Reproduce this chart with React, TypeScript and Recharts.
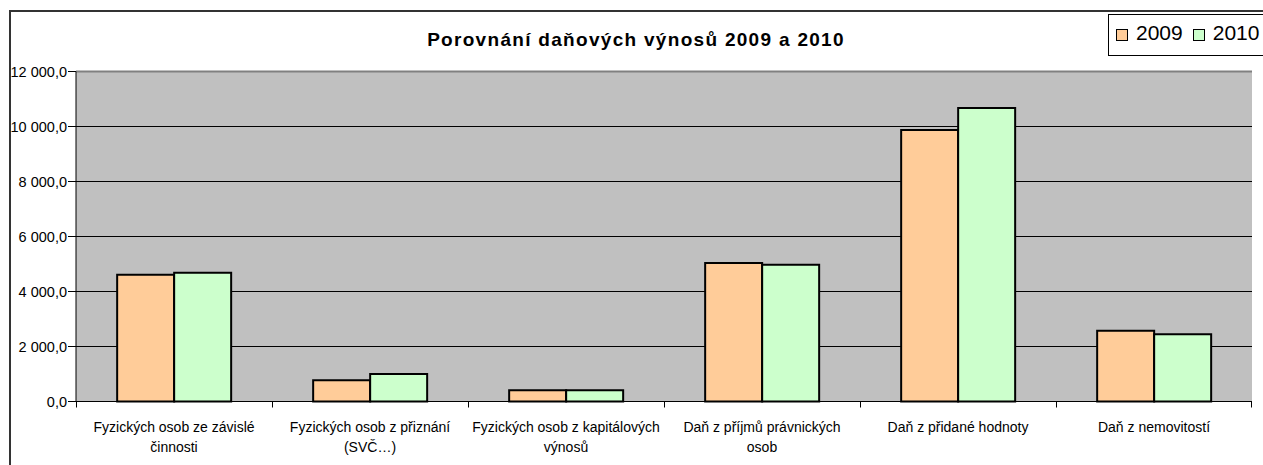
import React from 'react';
import { BarChart, Bar, XAxis, YAxis, CartesianGrid, Legend, ReferenceLine } from 'recharts';

const categories = [
  'Fyzických osob ze závislé činnosti',
  'Fyzických osob z přiznání (SVČ…)',
  'Fyzických osob z kapitálových výnosů',
  'Daň z příjmů právnických osob',
  'Daň z přidané hodnoty',
  'Daň z nemovitostí',
];
const categoryLines = [
  ['Fyzických osob ze závislé', 'činnosti'],
  ['Fyzických osob z přiznání', '(SVČ…)'],
  ['Fyzických osob z kapitálových', 'výnosů'],
  ['Daň z příjmů právnických', 'osob'],
  ['Daň z přidané hodnoty'],
  ['Daň z nemovitostí'],
];
const values2009 = [4605, 770, 405, 5035, 9875, 2575];
const values2010 = [4680, 1000, 405, 4970, 10675, 2445];
const seriesNames = ['2009', '2010'];
const yTicks = [0, 2000, 4000, 6000, 8000, 10000, 12000];
const title = 'Porovnání daňových výnosů 2009 a 2010';

const data = categories.map((c, i) => ({
  name: c,
  v2009: values2009[i],
  v2010: values2010[i],
}));

const FONT = '"Liberation Sans", Arial, sans-serif';

const fmt = (n: number) => {
  if (n === 0) return '0,0';
  const th = Math.floor(n / 1000);
  const rest = String(n % 1000).padStart(3, '0');
  return th > 0 ? `${th} ${rest},0` : `${n},0`;
};

const CategoryTick = (props: any) => {
  const { x, y, payload, width, visibleTicksCount, index } = props;
  const idx = categories.indexOf(payload.value);
  const lines = idx >= 0 ? categoryLines[idx] : [String(payload.value)];
  const band = width && visibleTicksCount ? Number(width) / Number(visibleTicksCount) : 0;
  const ty = Math.round(y) + 0.5;
  return (
    <g>
      {band > 0 && (
        <line
          x1={Math.round(x - band / 2) + 0.5}
          x2={Math.round(x - band / 2) + 0.5}
          y1={ty - 0.5}
          y2={ty + 5}
          stroke="#000"
          strokeWidth={1}
        />
      )}
      {band > 0 && index === visibleTicksCount - 1 && (
        <line
          x1={Math.round(x + band / 2) - 0.5}
          x2={Math.round(x + band / 2) - 0.5}
          y1={ty - 0.5}
          y2={ty + 5}
          stroke="#000"
          strokeWidth={1}
        />
      )}
      <text x={x} y={y} textAnchor="middle" fontSize={14} fill="#000" fontFamily={FONT}>
        {lines.map((l, i) => (
          <tspan key={i} x={x} dy={i === 0 ? 30 : 20}>
            {l}
          </tspan>
        ))}
      </text>
    </g>
  );
};

const renderLegend = (props: any) => {
  const { payload } = props;
  return (
    <div
      style={{
        boxSizing: 'border-box',
        width: 170,
        height: 42,
        border: '1px solid #000',
        background: '#fff',
        display: 'flex',
        alignItems: 'center',
        paddingLeft: 7,
        fontFamily: FONT,
      }}
    >
      {(payload || []).map((entry: any, i: number) => (
        <div key={i} style={{ display: 'flex', alignItems: 'center', marginRight: 10 }}>
          <div
            style={{
              width: 10,
              height: 10,
              border: '1px solid #000',
              background: entry.color,
              marginRight: 8,
            }}
          />
          <span style={{ fontSize: 21, lineHeight: '21px', color: '#000', position: 'relative', top: -2.5 }}>
            {entry.value}
          </span>
        </div>
      ))}
    </div>
  );
};

export default function App() {
  return (
    <div
      style={{
        position: 'absolute',
        left: 0,
        top: 0,
        width: 1263,
        height: 465,
        overflow: 'hidden',
        background: '#fff',
      }}
    >
      <div
        style={{
          position: 'absolute',
          left: 9,
          top: 10,
          width: 1400,
          height: 600,
          border: '2px solid #333',
          boxSizing: 'border-box',
        }}
      />
      <div style={{ position: 'absolute', left: 0, top: 0 }}>
        <BarChart
          width={1263}
          height={465}
          data={data}
          margin={{ top: 71.5, right: 11, bottom: 13.5, left: 0 }}
          barCategoryGap="21%"
          barGap={0}
        >
          <CartesianGrid
            xAxisId="cat"
            yAxisId="left"
            vertical={false}
            fill="#C0C0C0"
            stroke="#000"
            strokeWidth={1}
          />
          <XAxis
            xAxisId="cat"
            dataKey="name"
            height={50}
            interval={0}
            tickLine={false}
            tickSize={0}
            tickMargin={0}
            axisLine={{ stroke: '#000' }}
            tick={<CategoryTick />}
          />
          <YAxis
            yAxisId="left"
            width={76}
            domain={[0, 12000]}
            ticks={yTicks}
            tickFormatter={fmt}
            tickSize={8}
            tickMargin={1}
            axisLine={{ stroke: '#000' }}
            tickLine={{ stroke: '#000' }}
            tick={{ fontSize: 14.5, fill: '#000', fontFamily: FONT }}
          />
          <YAxis
            yAxisId="right"
            orientation="right"
            width={0}
            domain={[0, 12000]}
            ticks={yTicks}
            tick={false}
            tickLine={false}
            axisLine={{ stroke: '#808080', strokeWidth: 2 }}
          />
          <ReferenceLine yAxisId="left" xAxisId="cat" y={12000} stroke="#808080" strokeWidth={2} />
          <Bar
            xAxisId="cat"
            yAxisId="left"
            dataKey="v2009"
            name={seriesNames[0]}
            fill="#FFCC99"
            stroke="#000"
            strokeWidth={2}
            isAnimationActive={false}
          />
          <Bar
            xAxisId="cat"
            yAxisId="left"
            dataKey="v2010"
            name={seriesNames[1]}
            fill="#CCFFCC"
            stroke="#000"
            strokeWidth={2}
            isAnimationActive={false}
          />
          <Legend
            layout="horizontal"
            verticalAlign="middle"
            align="center"
            wrapperStyle={{ left: 1108, top: 14, width: 170, height: 42 }}
            content={renderLegend}
          />
        </BarChart>
      </div>
      <svg
        width={1263}
        height={465}
        style={{ position: 'absolute', left: 0, top: 0, pointerEvents: 'none' }}
      >
        <text
          x={636}
          y={46}
          textAnchor="middle"
          fontFamily={FONT}
          fontWeight="bold"
          fontSize={19}
          letterSpacing={1.3}
          fill="#000"
        >
          {title}
        </text>
      </svg>
    </div>
  );
}
